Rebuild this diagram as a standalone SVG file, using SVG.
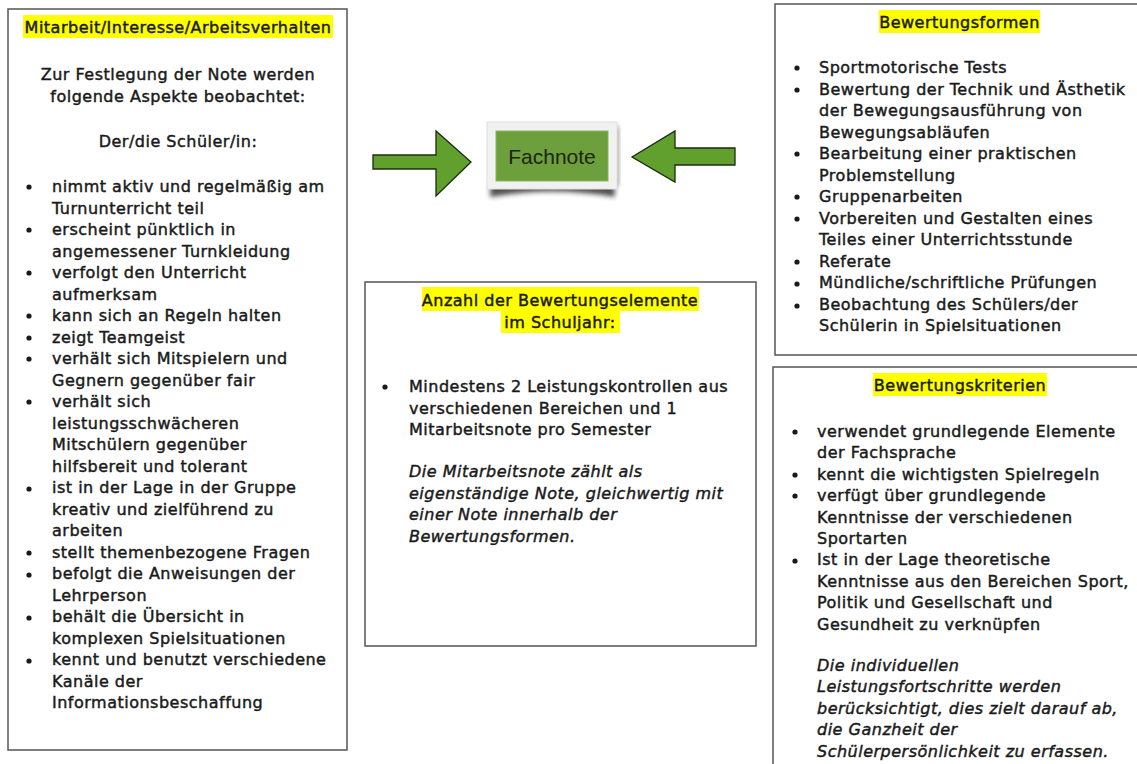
<svg xmlns="http://www.w3.org/2000/svg" width="1137" height="764" viewBox="0 0 1137 764">
<defs>
<style>
.t{font-family:"DejaVu Sans","Liberation Sans",sans-serif;font-size:16px;fill:#1a1a1a;stroke:#1a1a1a;stroke-width:0.45;letter-spacing:0.5px}
.i{font-style:italic}
.c{text-anchor:middle}
.box{fill:#fff;stroke:#555;stroke-width:1.5}
.hl{fill:#ffff00}
.arrow{fill:#62a02e;stroke:#1e2a10;stroke-width:1.3;stroke-linejoin:miter}
.b{fill:#1a1a1a}
</style>
<filter id="blur" x="-20%" y="-50%" width="140%" height="200%"><feGaussianBlur stdDeviation="2.5"/></filter>
</defs>
<rect width="1137" height="764" fill="#fff"/>

<g id="box-mitarbeit">
<rect class="box" x="8" y="9" width="339" height="741"/>
<rect class="hl" x="23" y="15" width="310" height="23"/>
<text class="t c" x="178" y="33">Mitarbeit/Interesse/Arbeitsverhalten</text>
<text class="t c" x="178" y="80">Zur Festlegung der Note werden</text>
<text class="t c" x="178" y="102">folgende Aspekte beobachtet:</text>
<text class="t c" x="178" y="147">Der/die Schüler/in:</text>
<g class="b">
<circle cx="29" cy="187" r="2.6"/>
<circle cx="29" cy="230" r="2.6"/>
<circle cx="29" cy="273" r="2.6"/>
<circle cx="29" cy="316" r="2.6"/>
<circle cx="29" cy="338" r="2.6"/>
<circle cx="29" cy="359" r="2.6"/>
<circle cx="29" cy="402" r="2.6"/>
<circle cx="29" cy="489" r="2.6"/>
<circle cx="29" cy="553" r="2.6"/>
<circle cx="29" cy="575" r="2.6"/>
<circle cx="29" cy="618" r="2.6"/>
<circle cx="29" cy="661" r="2.6"/>
</g>
<text class="t" x="52" y="192">nimmt aktiv und regelmäßig am</text>
<text class="t" x="52" y="213.5">Turnunterricht teil</text>
<text class="t" x="52" y="235">erscheint pünktlich in</text>
<text class="t" x="52" y="256.5">angemessener Turnkleidung</text>
<text class="t" x="52" y="278">verfolgt den Unterricht</text>
<text class="t" x="52" y="299.5">aufmerksam</text>
<text class="t" x="52" y="321">kann sich an Regeln halten</text>
<text class="t" x="52" y="342.5">zeigt Teamgeist</text>
<text class="t" x="52" y="364">verhält sich Mitspielern und</text>
<text class="t" x="52" y="385.5">Gegnern gegenüber fair</text>
<text class="t" x="52" y="407">verhält sich</text>
<text class="t" x="52" y="428.5">leistungsschwächeren</text>
<text class="t" x="52" y="450">Mitschülern gegenüber</text>
<text class="t" x="52" y="471.5">hilfsbereit und tolerant</text>
<text class="t" x="52" y="493">ist in der Lage in der Gruppe</text>
<text class="t" x="52" y="514.5">kreativ und zielführend zu</text>
<text class="t" x="52" y="536">arbeiten</text>
<text class="t" x="52" y="557.5">stellt themenbezogene Fragen</text>
<text class="t" x="52" y="579">befolgt die Anweisungen der</text>
<text class="t" x="52" y="600.5">Lehrperson</text>
<text class="t" x="52" y="622">behält die Übersicht in</text>
<text class="t" x="52" y="643.5">komplexen Spielsituationen</text>
<text class="t" x="52" y="665">kennt und benutzt verschiedene</text>
<text class="t" x="52" y="686.5">Kanäle der</text>
<text class="t" x="52" y="708">Informationsbeschaffung</text>
</g>

<g id="connectors">
<polygon class="arrow" points="373,155 436,155 436,131 471,162 436,196 436,169 373,169"/>
<polygon class="arrow" points="735,148 675,148 675,131 632,157 675,182 675,165 735,165"/>
</g>

<g id="node-fachnote">
<path d="M491,178 L614,178 L615,197 Q552,186 490,197 Z" fill="#222" filter="url(#blur)" opacity="0.8"/>
<path d="M612,126 L619,126 L619,186 L612,186 Z" fill="#555" filter="url(#blur)" opacity="0.5"/>
<rect x="487" y="122" width="130" height="67" fill="#f1f1f1" stroke="#e0e0e0" stroke-width="1"/>
<rect x="496" y="131" width="112" height="50" fill="#6d9f3d" stroke="#8bb560" stroke-width="1"/>
<text x="552" y="164" text-anchor="middle" font-family="'Liberation Sans',Arial,sans-serif" font-size="21" fill="#1c2412">Fachnote</text>
</g>

<g id="box-anzahl">
<rect class="box" x="365" y="282" width="391" height="364"/>
<rect class="hl" x="422" y="287" width="277" height="24"/>
<rect class="hl" x="501" y="311" width="119" height="22"/>
<text class="t c" x="560" y="306">Anzahl der Bewertungselemente</text>
<text class="t c" x="560" y="328">im Schuljahr:</text>
<circle class="b" cx="385" cy="387" r="2.6"/>
<text class="t" x="409" y="392">Mindestens 2 Leistungskontrollen aus</text>
<text class="t" x="409" y="413.5">verschiedenen Bereichen und 1</text>
<text class="t" x="409" y="435">Mitarbeitsnote pro Semester</text>
<text class="t i" x="409" y="477">Die Mitarbeitsnote zählt als</text>
<text class="t i" x="409" y="498.5">eigenständige Note, gleichwertig mit</text>
<text class="t i" x="409" y="520">einer Note innerhalb der</text>
<text class="t i" x="409" y="541.5">Bewertungsformen.</text>
</g>

<g id="box-bewertungsformen">
<path class="box" d="M1140,4 L775,4 L775,355 L1140,355"/>
<rect class="hl" x="879" y="10" width="161" height="23"/>
<text class="t c" x="959.5" y="28">Bewertungsformen</text>
<g class="b">
<circle cx="797" cy="68" r="2.6"/>
<circle cx="797" cy="90" r="2.6"/>
<circle cx="797" cy="154" r="2.6"/>
<circle cx="797" cy="197" r="2.6"/>
<circle cx="797" cy="219" r="2.6"/>
<circle cx="797" cy="262" r="2.6"/>
<circle cx="797" cy="284" r="2.6"/>
<circle cx="797" cy="306" r="2.6"/>
</g>
<text class="t" x="819" y="73">Sportmotorische Tests</text>
<text class="t" x="819" y="94.5">Bewertung der Technik und Ästhetik</text>
<text class="t" x="819" y="116">der Bewegungsausführung von</text>
<text class="t" x="819" y="137.5">Bewegungsabläufen</text>
<text class="t" x="819" y="159">Bearbeitung einer praktischen</text>
<text class="t" x="819" y="180.5">Problemstellung</text>
<text class="t" x="819" y="202">Gruppenarbeiten</text>
<text class="t" x="819" y="223.5">Vorbereiten und Gestalten eines</text>
<text class="t" x="819" y="245">Teiles einer Unterrichtsstunde</text>
<text class="t" x="819" y="266.5">Referate</text>
<text class="t" x="819" y="288">Mündliche/schriftliche Prüfungen</text>
<text class="t" x="819" y="309.5">Beobachtung des Schülers/der</text>
<text class="t" x="819" y="331">Schülerin in Spielsituationen</text>
</g>

<g id="box-bewertungskriterien">
<path class="box" d="M1140,367 L773,367 L773,770"/>
<rect class="hl" x="873" y="373" width="174" height="23"/>
<text class="t c" x="960" y="391">Bewertungskriterien</text>
<g class="b">
<circle cx="795" cy="432" r="2.6"/>
<circle cx="795" cy="475" r="2.6"/>
<circle cx="795" cy="496" r="2.6"/>
<circle cx="795" cy="561" r="2.6"/>
</g>
<text class="t" x="817" y="437">verwendet grundlegende Elemente</text>
<text class="t" x="817" y="458.4">der Fachsprache</text>
<text class="t" x="817" y="479.8">kennt die wichtigsten Spielregeln</text>
<text class="t" x="817" y="501.2">verfügt über grundlegende</text>
<text class="t" x="817" y="522.6">Kenntnisse der verschiedenen</text>
<text class="t" x="817" y="544">Sportarten</text>
<text class="t" x="817" y="565.4">Ist in der Lage theoretische</text>
<text class="t" x="817" y="586.8">Kenntnisse aus den Bereichen Sport,</text>
<text class="t" x="817" y="608.2">Politik und Gesellschaft und</text>
<text class="t" x="817" y="629.6">Gesundheit zu verknüpfen</text>
<text class="t i" x="817" y="671">Die individuellen</text>
<text class="t i" x="817" y="692.4">Leistungsfortschritte werden</text>
<text class="t i" x="817" y="713.8">berücksichtigt, dies zielt darauf ab,</text>
<text class="t i" x="817" y="735.2">die Ganzheit der</text>
<text class="t i" x="817" y="756.6">Schülerpersönlichkeit zu erfassen.</text>
</g>
</svg>
